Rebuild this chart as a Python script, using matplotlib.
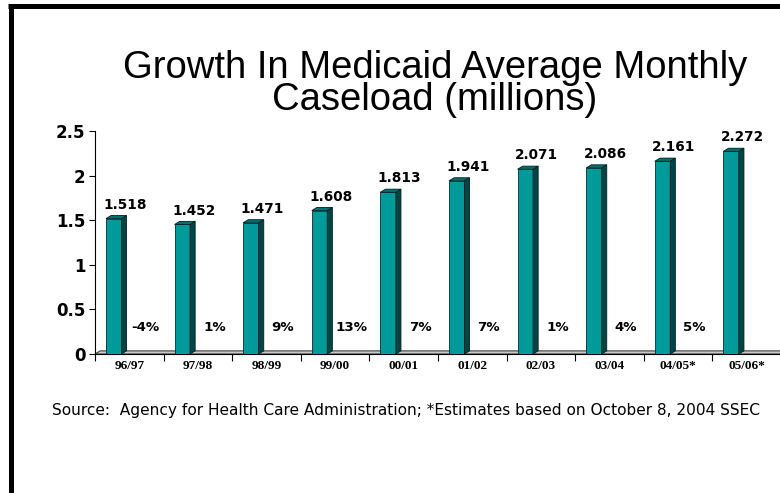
import numpy as np
import matplotlib.pyplot as plt
from matplotlib.patches import Polygon
from matplotlib.lines import Line2D

# Datos del gráfico
years = ["96/97", "97/98", "98/99", "99/00", "00/01", "01/02", "02/03", "03/04", "04/05*", "05/06*"]
caseload = [1.518, 1.452, 1.471, 1.608, 1.813, 1.941, 2.071, 2.086, 2.161, 2.272]
growth = ["-4%", "1%", "9%", "13%", "7%", "7%", "1%", "4%", "5%", ""]
yticks = [0, 0.5, 1, 1.5, 2, 2.5]
ytick_labels = ["0", "0.5", "1", "1.5", "2", "2.5"]

front = "#009a9a"
side = "#004545"
top = "#007070"

fig = plt.figure(figsize=(7.8, 4.93), dpi=100)
ax = fig.add_axes([95 / 780, 139 / 493, 686 / 780, 223 / 493])

x = np.arange(len(years))
bar_w = 0.225
off = 0.16
dx, dy = 0.075, 0.035  # profundidad del efecto 3D

# suelo gris
floor = Polygon([(0, 0), (10, 0), (10 + dx, dy), (dx, dy)], closed=True,
                facecolor="#c8c8c8", edgecolor="#404040", lw=0.8, zorder=1)
ax.add_patch(floor)

bars = ax.bar(x + off, caseload, width=bar_w, align="edge", color=front,
              edgecolor="#003030", lw=0.6, zorder=3)
for b in bars:
    x0 = b.get_x()
    x1 = x0 + b.get_width()
    h = b.get_height()
    ax.add_patch(Polygon([(x1, 0), (x1 + dx, dy), (x1 + dx, h + dy), (x1, h)],
                         closed=True, facecolor=side, edgecolor="#002020", lw=0.6, zorder=3))
    ax.add_patch(Polygon([(x0, h), (x0 + dx, h + dy), (x1 + dx, h + dy), (x1, h)],
                         closed=True, facecolor=top, edgecolor="#002020", lw=0.6, zorder=3))
    ax.annotate(f"{h:.3f}", (x0 + 0.28, h), xytext=(0, 10), textcoords="offset points",
                ha="center", va="center", fontsize=9.8, fontweight="bold",
                family="DejaVu Sans", zorder=4)

for i, g in enumerate(growth):
    ax.text(i + 0.74, 0.3, g, ha="center", va="center", fontsize=9.6,
            fontweight="bold", family="DejaVu Sans")

ax.set_xlim(0, 10)
ax.set_ylim(0, 2.5)
ax.set_yticks(yticks)
ax.set_yticklabels(ytick_labels, fontsize=12, fontweight="bold", family="DejaVu Sans")
ax.set_xticks(np.arange(11))
ax.set_xticklabels([])
ax.set_xticks(x + 0.5, minor=True)
ax.set_xticklabels(years, minor=True, fontsize=9.5, fontweight="bold", family="Liberation Serif")
ax.tick_params(axis="x", which="minor", length=0, pad=4)
ax.tick_params(axis="x", which="major", length=5, direction="out", width=0.8)
ax.tick_params(axis="y", length=4, direction="out", width=0.8, pad=3)
for s in ["top", "right"]:
    ax.spines[s].set_visible(False)
ax.spines["left"].set_linewidth(0.8)
ax.spines["bottom"].set_linewidth(0.8)

fig.text(435 / 780, 1 - 84 / 493, "Growth In Medicaid Average Monthly\nCaseload (millions)",
         ha="center", va="center", fontsize=27.5, family="Liberation Sans", linespacing=0.86)

fig.text(52 / 780, 1 - 411 / 493,
         "Source:  Agency for Health Care Administration; *Estimates based on October 8, 2004 SSEC",
         ha="left", va="center", fontsize=11.1, family="DejaVu Sans")

# marco negro superior e izquierdo
fig.add_artist(Line2D([8 / 780, 1], [1 - 6 / 493, 1 - 6 / 493], transform=fig.transFigure,
                      color="black", lw=3.6, solid_capstyle="butt"))
fig.add_artist(Line2D([10.5 / 780, 10.5 / 780], [0, 1 - 4 / 493], transform=fig.transFigure,
                      color="black", lw=3.6, solid_capstyle="butt"))

fig.savefig("out.png", dpi=100)
